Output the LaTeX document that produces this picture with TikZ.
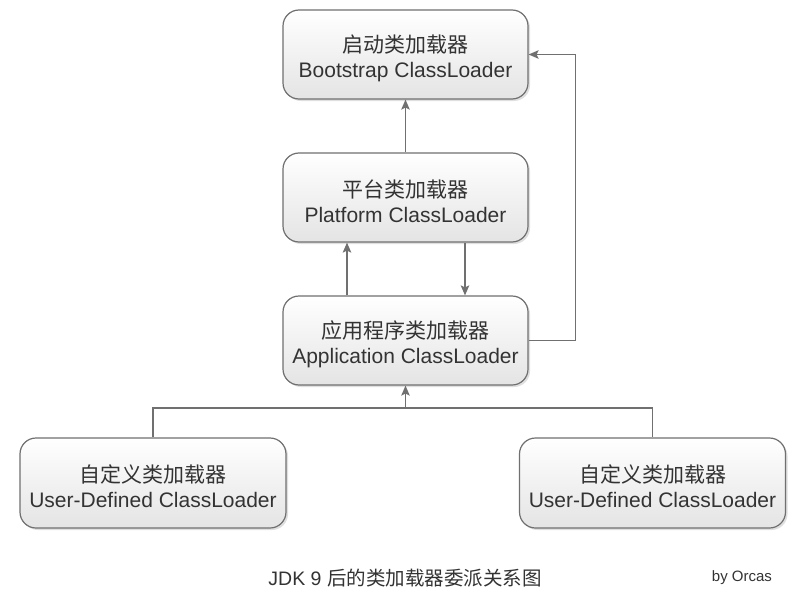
\documentclass[tikz,border=0pt]{standalone}
\usepackage{fontspec}
\setmainfont{Liberation Sans}
\newfontfamily\cjk{Noto Sans CJK SC}
\usetikzlibrary{arrows.meta,shadows,calc}
\definecolor{linegray}{HTML}{707070}
\definecolor{txt}{HTML}{333333}
\definecolor{boxbot}{HTML}{E4E4E4}
\newcommand{\lift}{\rule{0pt}{24.5pt}}
\tikzset{
  loader/.style={draw=linegray, line width=1.2pt, rounded corners=16pt,
    top color=white, bottom color=boxbot, minimum width=245pt, minimum height=89pt,
    inner sep=0pt, align=center, text=txt,
    font=\fontsize{21}{25}\selectfont,
    drop shadow={opacity=0.25, shadow xshift=2pt, shadow yshift=-2pt}},
  wide/.style={minimum width=266pt, minimum height=90pt},
  conn/.style={draw=linegray, line width=1.4pt},
  arr/.style={conn, -{Stealth[length=10pt,width=8.5pt,inset=2pt]}},
}
\begin{document}
\begin{tikzpicture}[x=1pt,y=-1pt]
\useasboundingbox[fill=white] (0,0) rectangle (809,597);
\node[loader] (boot) at (405.5,54.5) {\lift{\cjk 启动类加载器}\\Bootstrap ClassLoader};
\node[loader] (plat) at (405.5,197.5) {\lift{\cjk 平台类加载器}\\Platform ClassLoader};
\node[loader] (app) at (405.5,340.5) {\lift{\cjk 应用程序类加载器}\\Application ClassLoader};
\node[loader,wide] (udl) at (153,483) {\lift{\cjk 自定义类加载器}\\User-Defined ClassLoader};
\node[loader,wide] (udr) at (652.5,483) {\lift{\cjk 自定义类加载器}\\User-Defined ClassLoader};
\coordinate (j) at (405.5,408);
\draw[arr] (plat.north) -- (boot.south);
\draw[arr] ([xshift=-58.5pt]app.north) -- ([xshift=-58.5pt]plat.south);
\draw[arr] ([xshift=59.5pt]plat.south) -- ([xshift=59.5pt]app.north);
\draw[arr] (app.east) -- ++(47,0) |- (boot.east);
\draw[conn] (udl.north) |- (j) -| (udr.north);
\draw[arr] (j) -- (app.south);
\node[text=txt, font=\fontsize{19.5}{22}\selectfont] (title) at (405,578) {JDK 9 {\cjk 后的类加载器委派关系图}};
\node[text=txt, font=\fontsize{15}{18}\selectfont] (by) at (742,578) {by Orcas};
\end{tikzpicture}
\end{document}
